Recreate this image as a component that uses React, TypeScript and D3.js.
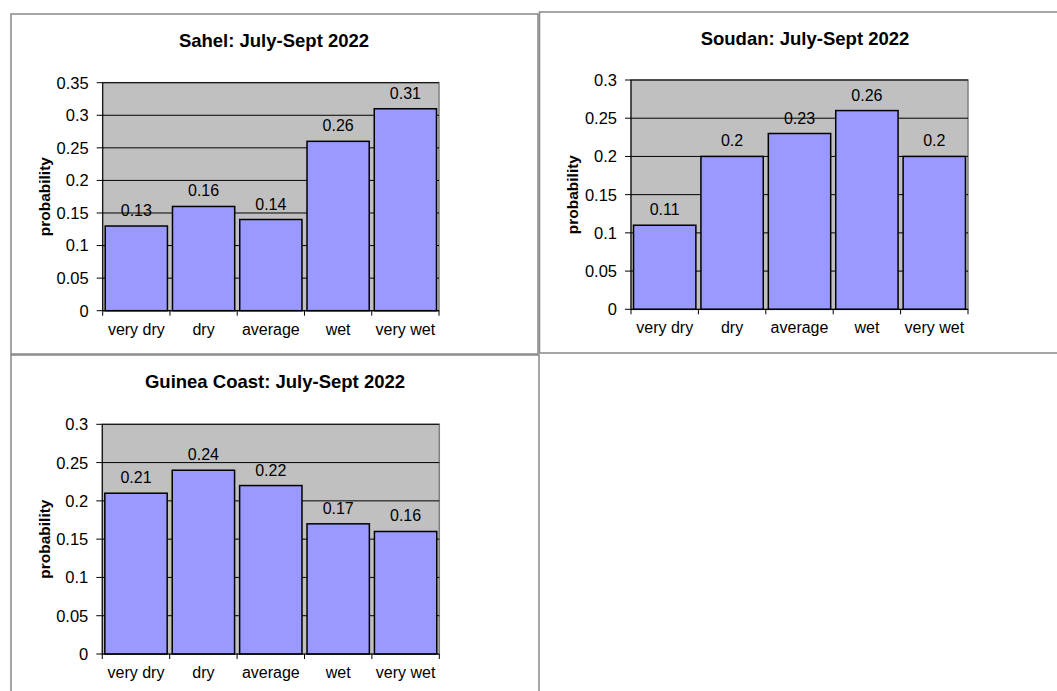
import React from "react";
import * as d3 from "d3";

// Rainfall-category probabilities for the July–September 2022 season
const categories = ["very dry", "dry", "average", "wet", "very wet"];

const sahelValues = [0.13, 0.16, 0.14, 0.26, 0.31];
const soudanValues = [0.11, 0.2, 0.23, 0.26, 0.2];
const guineaValues = [0.21, 0.24, 0.22, 0.17, 0.16];

const sahelTicks = [0, 0.05, 0.1, 0.15, 0.2, 0.25, 0.3, 0.35];
const soudanTicks = [0, 0.05, 0.1, 0.15, 0.2, 0.25, 0.3];
const guineaTicks = [0, 0.05, 0.1, 0.15, 0.2, 0.25, 0.3];

const sahelTitle = "Sahel: July-Sept 2022";
const soudanTitle = "Soudan: July-Sept 2022";
const guineaTitle = "Guinea Coast: July-Sept 2022";
const yAxisLabel = "probability";

const FONT = "'Liberation Sans', Arial, Helvetica, sans-serif";

type Box = { x: number; y: number; w: number; h: number };
type PanelProps = {
  title: string;
  values: number[];
  ticks: number[];
  frame: Box;
  plot: Box;
  titleX: number;
  titleY: number;
  yLabelX: number;
};

const fmt = (v: number) => String(+v.toFixed(2));

function Panel({ title, values, ticks, frame, plot, titleX, titleY, yLabelX }: PanelProps) {
  const yMax = ticks[ticks.length - 1];
  const y = d3.scaleLinear().domain([0, yMax]).range([plot.y + plot.h, plot.y]);
  const slots = d3.scaleBand<string>().domain(categories).range([plot.x, plot.x + plot.w]);
  const bars = d3
    .scaleBand<string>()
    .domain(categories)
    .range([plot.x, plot.x + plot.w])
    .paddingInner(0.075)
    .paddingOuter(0.0375);
  const bottom = plot.y + plot.h;
  const boundaries = categories.map((c) => slots(c)!).concat([plot.x + plot.w]);

  return (
    <g>
      <rect x={frame.x} y={frame.y} width={frame.w} height={frame.h} fill="#fff" stroke="#888" strokeWidth={1.5} />
      <text x={titleX} y={titleY} textAnchor="middle" fontFamily={FONT} fontWeight="bold" fontSize={18.5} fill="#000">
        {title}
      </text>
      {/* plot area */}
      <rect x={plot.x} y={plot.y} width={plot.w} height={plot.h} fill="#c0c0c0" stroke="#808080" strokeWidth={1.5} />
      {ticks.slice(1).map((t) => (
        <line key={"g" + t} x1={plot.x} x2={plot.x + plot.w} y1={y(t)} y2={y(t)} stroke="#000" strokeWidth={1} />
      ))}
      {/* bars */}
      {categories.map((c, i) => (
        <rect
          key={c}
          x={bars(c)!}
          y={y(values[i])}
          width={bars.bandwidth()}
          height={bottom - y(values[i])}
          fill="#9999ff"
          stroke="#000"
          strokeWidth={1.5}
        />
      ))}
      {categories.map((c, i) => (
        <text
          key={"v" + c}
          x={bars(c)! + bars.bandwidth() / 2}
          y={y(values[i]) - 10}
          textAnchor="middle"
          fontFamily={FONT}
          fontSize={16}
          fill="#000"
        >
          {fmt(values[i])}
        </text>
      ))}
      {/* y axis */}
      <line x1={plot.x} x2={plot.x} y1={plot.y} y2={bottom} stroke="#000" strokeWidth={1} />
      {ticks.map((t) => (
        <g key={"t" + t}>
          <line x1={plot.x - 6} x2={plot.x} y1={y(t)} y2={y(t)} stroke="#000" strokeWidth={1} />
          <text x={plot.x - 14} y={y(t)} dy="0.36em" textAnchor="end" fontFamily={FONT} fontSize={16.5} fill="#000">
            {fmt(t)}
          </text>
        </g>
      ))}
      {/* x axis */}
      <line x1={plot.x} x2={plot.x + plot.w} y1={bottom} y2={bottom} stroke="#000" strokeWidth={1.2} />
      {boundaries.map((bx, i) => (
        <line key={"xt" + i} x1={bx} x2={bx} y1={bottom} y2={bottom + 5} stroke="#000" strokeWidth={1} />
      ))}
      {categories.map((c) => (
        <text
          key={"x" + c}
          x={slots(c)! + slots.bandwidth() / 2}
          y={bottom + 24}
          textAnchor="middle"
          fontFamily={FONT}
          fontSize={16}
          fill="#000"
        >
          {c}
        </text>
      ))}
      <text
        transform={`translate(${yLabelX},${plot.y + plot.h / 2}) rotate(-90)`}
        textAnchor="middle"
        dy="0.35em"
        fontFamily={FONT}
        fontWeight="bold"
        fontSize={15.5}
        fill="#000"
      >
        {yAxisLabel}
      </text>
    </g>
  );
}

export default function App() {
  return (
    <svg
      width={1057}
      height={691}
      style={{ position: "absolute", left: 0, top: 0, background: "#fff" }}
    >
      <Panel
        title={sahelTitle}
        values={sahelValues}
        ticks={sahelTicks}
        frame={{ x: 11, y: 14, w: 527, h: 340 }}
        plot={{ x: 102.7, y: 82.7, w: 336.3, h: 228 }}
        titleX={274}
        titleY={46.5}
        yLabelX={45}
      />
      <Panel
        title={soudanTitle}
        values={soudanValues}
        ticks={soudanTicks}
        frame={{ x: 539.5, y: 12, w: 530, h: 341 }}
        plot={{ x: 631, y: 80, w: 337, h: 229.3 }}
        titleX={805}
        titleY={45}
        yLabelX={573}
      />
      <Panel
        title={guineaTitle}
        values={guineaValues}
        ticks={guineaTicks}
        frame={{ x: 11, y: 355, w: 528, h: 400 }}
        plot={{ x: 102.3, y: 424.3, w: 337, h: 229.7 }}
        titleX={275}
        titleY={388}
        yLabelX={45}
      />
    </svg>
  );
}
